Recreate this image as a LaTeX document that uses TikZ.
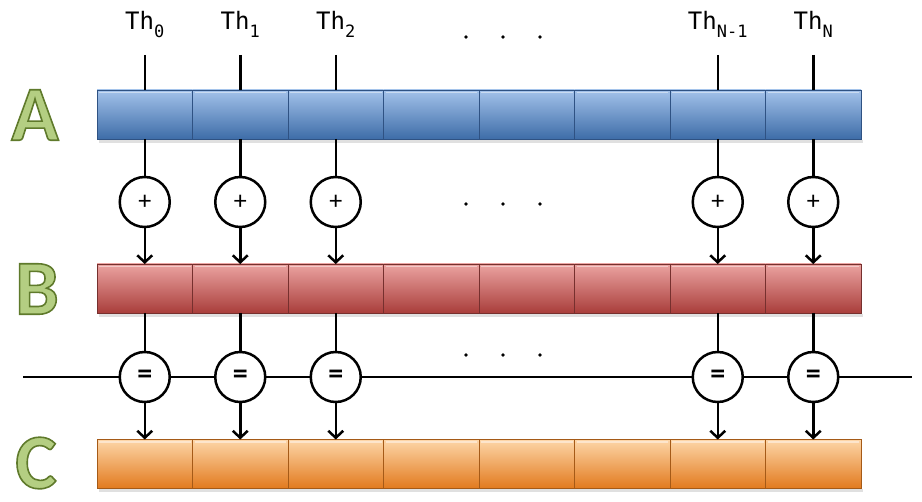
\documentclass[tikz,border=0pt]{standalone}
\usepackage{fontspec}
\setmainfont{Carlito}
\newfontfamily\monof{DejaVu Sans Mono}
\usetikzlibrary{arrows.meta}
\definecolor{blueT}{HTML}{A3C2EA}
\definecolor{blueM}{HTML}{5E8FCF}
\definecolor{blueB}{HTML}{3E6DA8}
\definecolor{blueD}{HTML}{2F5283}
\definecolor{redT}{HTML}{EBA3A1}
\definecolor{redM}{HTML}{CD5C59}
\definecolor{redB}{HTML}{A93E3B}
\definecolor{redD}{HTML}{76302E}
\definecolor{orT}{HTML}{FDD6A8}
\definecolor{orM}{HTML}{F8A256}
\definecolor{orB}{HTML}{E27A1E}
\definecolor{orD}{HTML}{A55A17}
\definecolor{lgreen}{HTML}{B4CE82}
\tikzset{
  cell/.style={draw, line width=0.9pt, minimum width=95.5pt, minimum height=49pt, inner sep=0pt, outer sep=0pt},
  cellA/.style={cell, draw=blueD, top color=blueT, middle color=blueM, bottom color=blueB},
  cellB/.style={cell, draw=redD, top color=redT, middle color=redM, bottom color=redB},
  cellC/.style={cell, draw=orD, top color=orT, middle color=orM, bottom color=orB},
  bevel/.style={white, opacity=0.45, line width=1.2pt},
  opnode/.style={circle, draw, fill=white, line width=2.5pt, minimum size=50pt, inner sep=0pt},
  plusop/.style={opnode, font=\fontsize{26}{26}\selectfont},
  eqop/.style={opnode, font=\fontsize{30}{30}\selectfont\bfseries},
  wire/.style={line width=2.5pt},
  arr/.style={wire, -{Straight Barb[length=7pt,width=15pt]}},
  thlab/.style={font=\monof\fontsize{24}{24}\selectfont, inner sep=0pt},
  bigletter/.style={font=\fontsize{78}{78}\selectfont\bfseries, text=lgreen, inner sep=0pt},
  dotmark/.style={circle, fill=black, minimum size=3.6pt, inner sep=0pt}
}
\newcommand{\thsub}[1]{\raisebox{-0.32em}{\fontsize{17}{17}\selectfont #1}}
\newcommand{\outl}[1]{\special{pdf:literal direct 2 Tr 1.6 w 0.373 0.478 0.169 RG}#1\special{pdf:literal direct 0 Tr}}
\begin{document}
\begin{tikzpicture}[x=1pt,y=-1pt]
\useasboundingbox[fill=white] (0,0) rectangle (922,502);
% shadows
\fill[black,opacity=0.12] (99,140) rectangle (863,143);
\fill[black,opacity=0.12] (99,314) rectangle (863,317);
\fill[black,opacity=0.12] (99,489) rectangle (863,492);
% bars
\foreach \k in {1,...,8}{
  \node[cellA] (a\k) at ({97+95.5*(\k-0.5)},114.5) {};
  \node[cellB] (b\k) at ({97+95.5*(\k-0.5)},288.5) {};
  \node[cellC] (c\k) at ({97+95.5*(\k-0.5)},464) {};
  \foreach \r in {a,b,c}{
    \draw[bevel] ([shift={(2,2.5)}]\r\k.north west) -- ([shift={(-2,2.5)}]\r\k.north east);
  }
}
% letters
\node[bigletter] (LA) at (35,115) {\outl{A}};
\node[bigletter] (LB) at (37,289) {\outl{B}};
\node[bigletter] (LC) at (36,463) {\outl{C}};
% horizontal line
\coordinate (hl) at (23,377);
\coordinate (hr) at (912,377);
\draw[wire] (hl) -- (hr);
% thread columns
\foreach \k/\s in {1/0,2/1,3/2,7/{N-1},8/N}{
  \path (a\k.north) ++(0,-60) node[thlab, anchor=base] (th\k) {Th\thsub{\s}};
  \path (a\k.north) ++(0,-35) coordinate (t\k);
  \node[plusop] (p\k) at (a\k |- 0,202) {+};
  \node[eqop] (e\k) at (a\k |- 0,377) {=};
  \draw[wire] (t\k) -- (a\k.north);
  \draw[wire] (a\k.south) -- (p\k.north);
  \draw[arr] (p\k.south) -- (b\k.north);
  \draw[wire] (b\k.south) -- (e\k.north);
  \draw[arr] (e\k.south) -- (c\k.north);
}
% ellipses
\foreach \y [count=\j] in {37,204,355}{
  \node[dotmark] (d\j a) at (466,\y) {};
  \node[dotmark] (d\j b) at (503,\y) {};
  \node[dotmark] (d\j c) at (540,\y) {};
}
\end{tikzpicture}
\end{document}
